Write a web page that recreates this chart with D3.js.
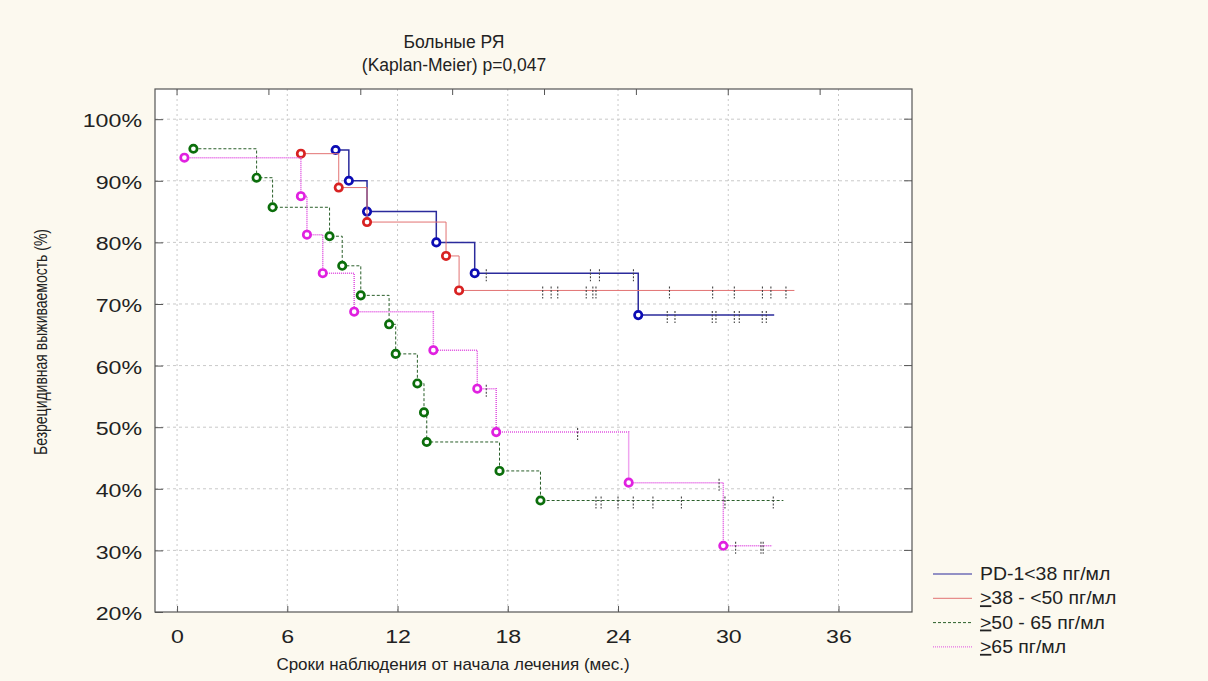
<!DOCTYPE html>
<html>
<head>
<meta charset="utf-8">
<script src="https://cdn.jsdelivr.net/npm/d3@7"></script>
<style>
  body { margin: 0; background: #fcf9ef; }
  svg { display: block; font-family: "Liberation Sans", Arial, sans-serif; }
</style>
</head>
<body>
<div id="chart"></div>
<script>
// --- data (months, % survival) ---
const groupNames = ["PD-1<38 пг/мл", "38 - <50 пг/мл", "50 - 65 пг/мл", "65 пг/мл"];
const groupPrefix = ["", ">", ">", ">"];   // drawn underlined (≥)

const blueTimes = [8.63, 9.35, 10.34, 14.11, 16.2, 25.1];
const blueSurv = [95, 90, 85, 80, 75, 68.2];
const blueCensor = [16.83, 22.5, 22.99, 24.84, 26.68, 27.1, 29.13, 29.33, 30.33, 30.6, 31.85, 32.07];
const blueEnd = 32.5;

const redTimes = [6.74, 8.8, 10.34, 14.64, 15.35];
const redSurv = [94.4, 88.9, 83.3, 77.8, 72.2];
const redCensor = [19.9, 20.36, 20.72, 22.27, 22.63, 22.8, 26.8, 29.15, 30.33, 31.86, 32.32, 33.14];
const redEnd = 33.6;

const greenTimes = [0.89, 4.33, 5.2, 8.3, 8.99, 10.0, 11.54, 11.9, 13.08, 13.44, 13.59, 17.55, 19.78];
const greenSurv = [95.2, 90.5, 85.7, 81.0, 76.2, 71.4, 66.7, 61.9, 57.1, 52.4, 47.6, 42.9, 38.1];
const greenCensor = [22.8, 23.08, 24.0, 24.83, 25.9, 27.45, 29.82, 32.45];
const greenEnd = 33.0;

const pinkTimes = [0.4, 6.74, 7.07, 7.93, 9.64, 13.95, 16.34, 17.37, 24.58, 29.73];
const pinkSurv = [93.75, 87.5, 81.25, 75, 68.75, 62.5, 56.25, 49.2, 41.0, 30.75];
const pinkCensor = [16.83, 21.8, 29.5, 30.4, 31.78, 31.9];
const pinkEnd = 32.4;

const xTicks = [0, 6, 12, 18, 24, 30, 36];
const xTopTicks = [0, 5, 10, 15, 20, 25, 30, 35];
const yTicks = [20, 30, 40, 50, 60, 70, 80, 90, 100];

const titleLines = ["Больные РЯ", "(Kaplan-Meier) p=0,047"];
const xLabel = "Сроки наблюдения от начала лечения (мес.)";
const yLabel = "Безрецидивная выживаемость (%)";

// styles per group
const styles = [
  { line: "#2b2b9c", mark: "#0c0cb4", width: 1.5, dash: null },
  { line: "#e27272", mark: "#d82222", width: 1, dash: null },
  { line: "#2a5f2a", mark: "#0b6e0b", width: 1, dash: "3,2" },
  { line: "#e04ee0", mark: "#e021e0", width: 1.5, dash: "1,1" }
];

const groups = [
  { times: blueTimes, surv: blueSurv, censor: blueCensor, end: blueEnd },
  { times: redTimes, surv: redSurv, censor: redCensor, end: redEnd },
  { times: greenTimes, surv: greenSurv, censor: greenCensor, end: greenEnd },
  { times: pinkTimes, surv: pinkSurv, censor: pinkCensor, end: pinkEnd }
];

const W = 1208, H = 681;
const pLeft = 155, pRight = 912, pTop = 89, pBottom = 612;

const svg = d3.select("#chart").append("svg")
  .attr("width", W).attr("height", H);

const x = d3.scaleLinear().domain([-1.2, 40]).range([pLeft, pRight]);
const y = d3.scaleLinear().domain([20, 104.9]).range([pBottom, pTop]);

// plot background
svg.append("rect")
  .attr("x", pLeft).attr("y", pTop)
  .attr("width", pRight - pLeft).attr("height", pBottom - pTop)
  .attr("fill", "#fff");

// grid
svg.append("g").selectAll("line")
  .data(yTicks.filter(d => d > 20))
  .join("line")
    .attr("x1", pLeft).attr("x2", pRight)
    .attr("y1", d => y(d)).attr("y2", d => y(d))
    .attr("stroke", "#c9c9c9").attr("stroke-dasharray", "3,3");

svg.append("g").selectAll("line")
  .data(xTicks)
  .join("line")
    .attr("x1", d => x(d)).attr("x2", d => x(d))
    .attr("y1", pTop).attr("y2", pBottom)
    .attr("stroke", "#c9c9c9").attr("stroke-dasharray", "2,3");

// step curve for one group: starts at first event, ends at last follow-up
const stepLine = d3.line().x(d => x(d[0])).y(d => y(d[1])).curve(d3.curveStepAfter);

groups.forEach((g, i) => {
  const st = styles[i];
  const pts = g.times.map((t, j) => [t, g.surv[j]]);
  pts.push([g.end, g.surv[g.surv.length - 1]]);

  svg.append("path")
    .datum(pts)
    .attr("d", stepLine)
    .attr("fill", "none")
    .attr("stroke", st.line)
    .attr("stroke-width", st.width)
    .attr("stroke-dasharray", st.dash);

  // survival level at a censor time
  const levelAt = t => {
    let s = g.surv[0];
    g.times.forEach((tt, j) => { if (tt <= t) s = g.surv[j]; });
    return s;
  };

  svg.append("g").selectAll("line")
    .data(g.censor)
    .join("line")
      .attr("x1", d => x(d)).attr("x2", d => x(d))
      .attr("y1", d => y(levelAt(d)) - 4)
      .attr("y2", d => y(levelAt(d)) + 8)
      .attr("stroke", "#444")
      .attr("stroke-width", 1.1)
      .attr("stroke-dasharray", "2,1.5");

  svg.append("g").selectAll("circle")
    .data(pts.slice(0, -1))
    .join("circle")
      .attr("cx", d => x(d[0]))
      .attr("cy", d => y(d[1]))
      .attr("r", 3.7)
      .attr("fill", "#fff")
      .attr("stroke", st.mark)
      .attr("stroke-width", 2.7);
});

// frame
svg.append("rect")
  .attr("x", pLeft).attr("y", pTop)
  .attr("width", pRight - pLeft).attr("height", pBottom - pTop)
  .attr("fill", "none").attr("stroke", "#555").attr("stroke-width", 1.2);

// axes (ticks point inward)
const sx = 1.22;
const yAxis = svg.append("g")
  .attr("transform", `translate(${pLeft},0)`)
  .call(d3.axisLeft(y).tickValues(yTicks).tickFormat(d => d + "%")
    .tickSize(-8).tickPadding(13));
yAxis.select(".domain").remove();
yAxis.selectAll("line").attr("stroke", "#555");
yAxis.selectAll("text")
  .attr("font-size", 19).attr("fill", "#222")
  .attr("x", -13 / sx)
  .attr("dy", "0.4em")
  .attr("transform", `scale(${sx},1)`);

const xAxis = svg.append("g")
  .attr("transform", `translate(0,${pBottom})`)
  .call(d3.axisBottom(x).tickValues(xTicks).tickSize(-6).tickPadding(18));
xAxis.select(".domain").remove();
xAxis.selectAll("line").attr("stroke", "#555");
xAxis.selectAll("text")
  .attr("font-size", 19).attr("fill", "#222")
  .attr("transform", `scale(${sx},1)`);

// top and right inward ticks
svg.append("g").selectAll("line")
  .data(xTopTicks)
  .join("line")
    .attr("x1", d => x(d)).attr("x2", d => x(d))
    .attr("y1", pTop).attr("y2", pTop + 6)
    .attr("stroke", "#555");

svg.append("g").selectAll("line")
  .data(yTicks.filter(d => d > 20))
  .join("line")
    .attr("x1", pRight - 8).attr("x2", pRight)
    .attr("y1", d => y(d)).attr("y2", d => y(d))
    .attr("stroke", "#555");

// title
svg.append("g").selectAll("text")
  .data(titleLines)
  .join("text")
    .attr("x", 454)
    .attr("y", (d, i) => 48 + i * 23)
    .attr("text-anchor", "middle")
    .attr("font-size", 17.5)
    .attr("fill", "#222")
    .text(d => d);

// axis labels
svg.append("text")
  .attr("x", 453).attr("y", 670)
  .attr("text-anchor", "middle")
  .attr("font-size", 17)
  .attr("fill", "#222")
  .text(xLabel);

svg.append("text")
  .attr("transform", "translate(47,342) scale(1.3,1) rotate(-90)")
  .attr("text-anchor", "middle")
  .attr("font-size", 14)
  .attr("fill", "#222")
  .text(yLabel);

// legend
const legend = svg.append("g").attr("transform", "translate(933,574)");
const rowH = 24.3;
groupNames.forEach((name, i) => {
  const st = styles[i];
  legend.append("line")
    .attr("x1", 0).attr("x2", 39)
    .attr("y1", i * rowH).attr("y2", i * rowH)
    .attr("stroke", st.line)
    .attr("stroke-width", i === 0 ? 1.2 : 1)
    .attr("stroke-dasharray", st.dash);
  const t = legend.append("text")
    .attr("x", 47 / 1.08).attr("y", i * rowH + 6)
    .attr("transform", "scale(1.08,1)")
    .attr("font-size", 18)
    .attr("fill", "#222");
  if (groupPrefix[i]) {
    t.append("tspan").attr("text-decoration", "underline").text(groupPrefix[i]);
  }
  t.append("tspan").text(name);
});
</script>
</body>
</html>
